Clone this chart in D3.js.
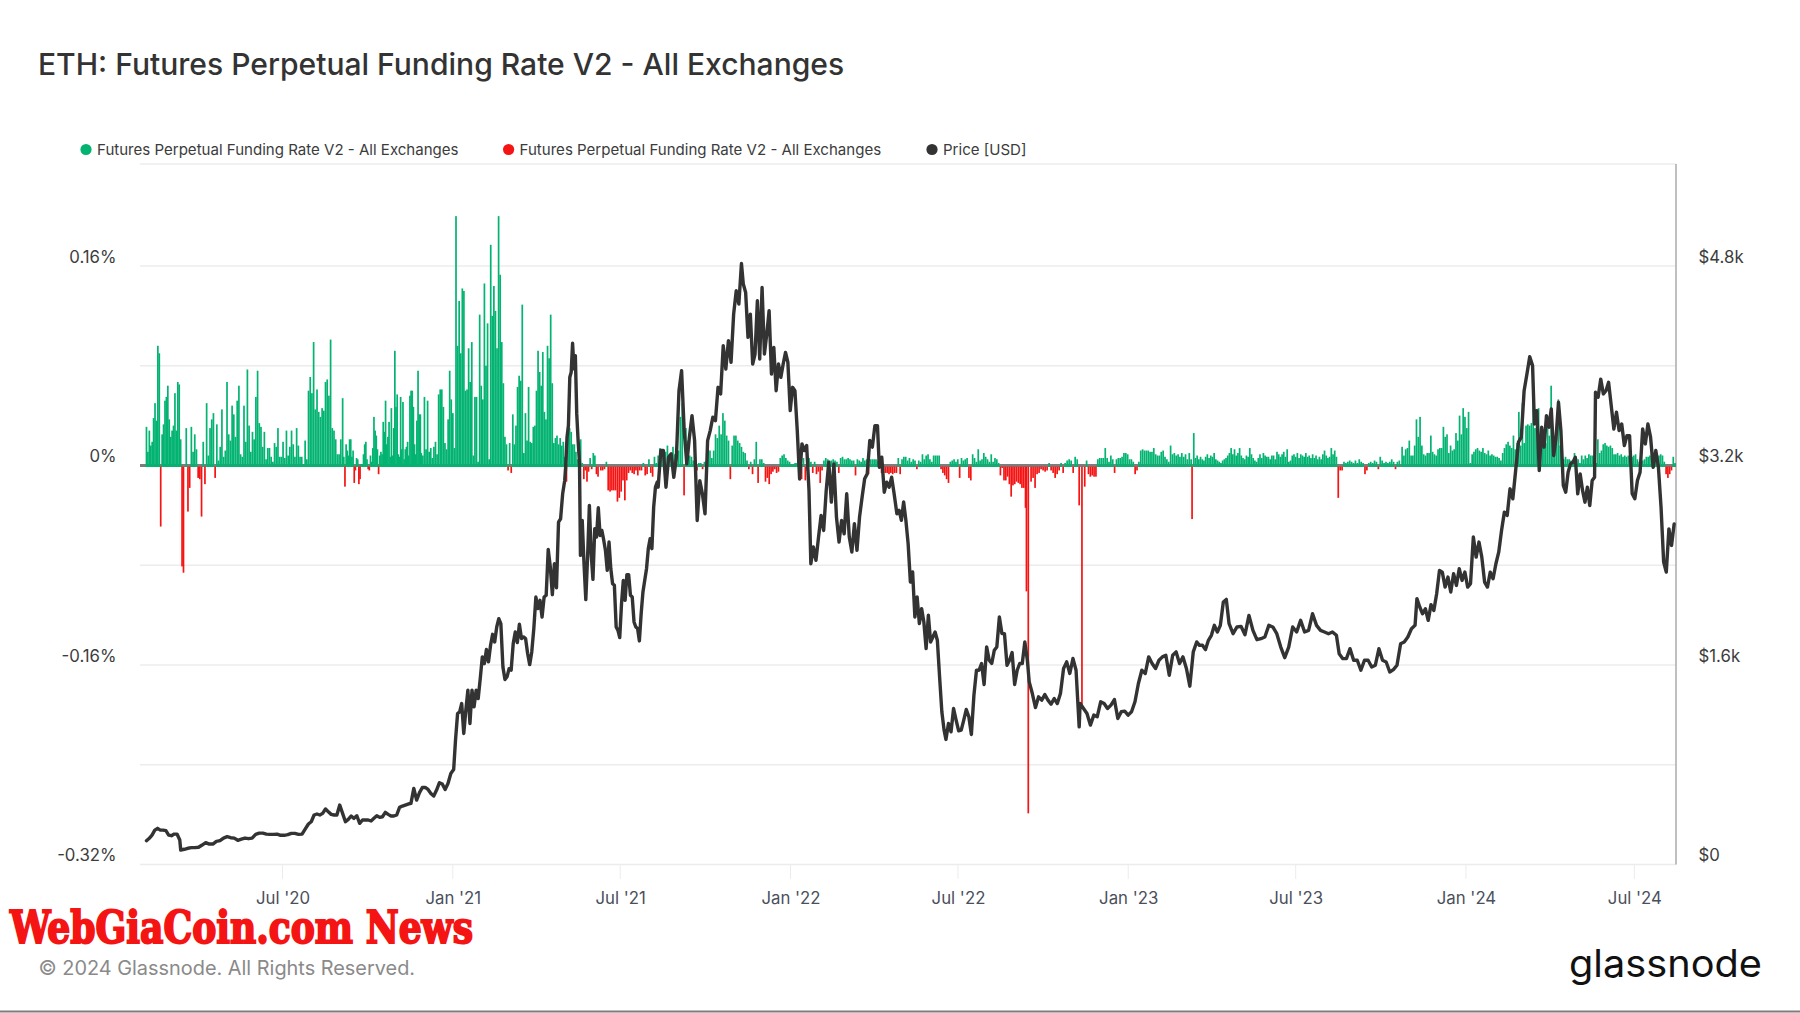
<!DOCTYPE html>
<html><head><meta charset="utf-8">
<script src="https://cdn.jsdelivr.net/npm/d3@7"></script>
<style>
html,body{margin:0;padding:0;background:#fff}
svg{display:block}
.axis path,.axis line{display:none}
</style></head><body>
<svg id="c" width="1800" height="1013"></svg>
<script>
const titleText="ETH: Futures Perpetual Funding Rate V2 - All Exchanges";
const legendLabels=["Futures Perpetual Funding Rate V2 - All Exchanges","Futures Perpetual Funding Rate V2 - All Exchanges","Price [USD]"];
const xTickDates=["2020-07-01","2021-01-01","2021-07-01","2022-01-01","2022-07-01","2023-01-01","2023-07-01","2024-01-01","2024-07-01"];
const yGrid=[0.16,0.08,0,-0.08,-0.16,-0.24,-0.32];
const yLabelled=[0.16,0,-0.16,-0.32];
const priceTicks=[4800,3200,1600,0];

// funding rate, in thousandths of a percent; each run of bars covers fundStarts[i]..fundEnds[i]
const fundStarts=["2020-02-05","2020-03-19","2020-09-04","2020-11-28","2021-06-10","2022-01-09","2022-08-12","2022-09-13","2022-09-18","2022-11-12","2022-11-15","2023-03-11","2023-08-16","2023-10-24"];
const fundEnds=["2020-03-16","2020-09-02","2020-11-27","2021-06-07","2022-01-08","2022-08-10","2022-09-12","2022-09-15","2022-11-09","2022-11-12","2023-03-10","2023-08-14","2023-10-21","2024-08-14"];
const fundA1=[31,11,28,16,19,38,50,36,96,90,-48,25,33,52,55,64,37,23,28,32,58,28,67,65,21,-80,-85];
const fundA2=[30,-36,-17,31,11,25,13,-9,-10,-40,19,-14,50,8,30,37,42,-9,33,4,15,45,7,12,67,25,20,48,41,23,52,64,9,7,48,19,77,32,11,27,21,55,76,34,31,15,27,5,14,14,7,3,18,15,30,7,7,19,6,28,8,15,28,17,7,30,16,7,7,1,20,5,60,71,58,99,45,61,43,39,46,44,67,69,56,101,30,28,21,9,9,21];
const fundB=[54,7,-16,17,12,8,21,21,7,12,-13,-3,6,5,-14,-10,1,1,9,17,19,5,-2,-3,8,3,14,39,28,24,13,-6,8,11,9,35,27,52,17,23,35,7,46,8,30,92,47,57,9,7,55,13,51,5,13,15,19,8,56,60,60,47,17,9,36,76,41,41];
const fundC=[10,8,55,13,52,11,14,6,15,19,9,57,61,61,47,18,13,37,76,53,42,14,200,96,132,90,142,140,60,61,94,67,99,8,55,55,3,121,64,53,146,80,114,5,177,120,144,124,94,200,153,99,66,23,17,-3,18,-5,41,17,32,63,72,68,129,10,42,20,63,19,18,31,32,60,92,75,64,91,43,37,96,86,121,66,18,22,24,17,22,16,19,7,-12,26,30,27,17,17,11,5,7,21,2,-10,-3,-12,-4,6,-2,10,8,-6,-8];
const fundD=[-3,-3,-2,3,-19,-20,-19,-19,-19,-28,-25,-20,-11,-27,-11,-5,-3,-5,-6,-3,-7,-3,-3,2,-7,-6,5,-5,-8,7,2,8,14,13,7,11,16,9,5,15,9,8,12,39,50,-23,30,20,8,7,4,3,-3,2,2,-2,3,3,13,12,6,12,25,22,32,25,42,36,24,20,-10,16,24,24,20,18,15,11,10,4,-2,3,-6,5,19,-13,5,5,2,-12,-9,-14,-6,-4,-2,-5,-4,6,8,9,6,4,3,1,1,2,2];
const fundE=[4,-11,-10,6,-11,-3,6,3,-5,3,-6,-4,-13,-3,4,6,5,4,4,5,4,3,-5,6,7,5,5,6,5,4,4,-7,5,4,3,6,4,5,-6,5,5,5,5,4,2,-5,-3,-5,-5,-6,-5,-6,-5,-5,6,-6,5,7,7,4,6,3,5,4,-2,4,3,9,5,8,9,5,3,8,8,8,8,-2,-5,-7,-10,-13,3,4,5,3,5,-9,6,4,5,6,-9,-11,9,6,3,13,4,5,10,7,5,3,9,3,6];
const fundF=[5,2,-7,-1,-11,-11,-8,-14,-24,-15,-14,-12,-13,-14,-17,-17,-33];
const fundG=[-100,-278];
const fundH=[-12,-9,-17,-6,-5,-2,-3,-4,-3,2,-3,-5,-9,-6,-3,2,-5,2,4,5,4,-5,7,5,-31];
const fundI=[-192];
const fundJ=[-16,4,-6,-8,-7,-8,-8,5,6,6,6,14,6,3,8,5,-5,5,6,6,7,10,10,9,5,5,3,-6,-3,3,12,13,12,12,12,11,11,14,9,8,8,11,12,7,5,3,16,9,10,8,9,7,10,7,9,5,10,5];
const fundK=[-42,26,6,8,5,7,5,4,7,9,6,8,7,10,5,4,3,2,4,5,6,8,10,14,9,13,8,10,14,8,6,5,8,7,14,9,6,4,3,6,9,6,10,8,7,7,5,8,8,5,11,9,7,9,11,7,13,3,4,8,9,7,10,6,9,8,7,10,7,8,6,9,6,8,5,7,5,9,12,8,6,7,14,9,12,7];
const fundL=[-25,-3,-3,3,2,3,4,3,2,4,2,5,3,2,-6,-3,2,3,2,4,3,-2,7,4,2,3,2,3,5,3,-2,3,4];
const fundM=[15,8,13,14,20,8,8,16,37,23,39,16,9,8,10,10,24,11,9,8,13,14,14,31,23,25,10,16,12,13,26,20,40,25,46,39,30,43,2,9,11,13,14,12,11,14,10,9,12,8,9,8,7,7,6,4,10,14,17,19,16,14,24,13,18,43,16,50,18,32,33,32,34,63,30,32,46,21,31,24,18,30,24,64,18,16,22,53,16,9,5,7,5,5,4,3,10,6,5,2,8,5,8,6,9,8,8,5,2,21,10,12,17,18,16,15,16,14,9,9,10,8,9,7,8,7,8,6,7,8,9,5,3,7,4,5,7,7,8,10,7,8,9,8,9,8,3,-6,-9,-6,-3,7,2];
const fundSeries=[fundA1,fundA2,fundB,fundC,fundD,fundE,fundF,fundG,fundH,fundI,fundJ,fundK,fundL,fundM];

// price in USD; each run of values covers priceFrom[i]..priceTo[i]
const priceFrom=["2020-02-05","2020-03-13","2020-07-29","2021-01-04","2021-05-03","2021-05-19","2021-08-11","2021-11-11","2022-01-23","2022-04-07","2022-04-26","2022-06-18","2022-09-16","2022-11-10","2023-03-19","2023-04-20","2023-08-17","2023-11-09","2024-03-15","2024-05-20"];
const priceTo=["2020-03-12","2020-07-26","2021-01-02","2021-05-02","2021-05-18","2021-08-10","2021-11-09","2022-01-21","2022-04-05","2022-04-23","2022-06-16","2022-09-14","2022-11-09","2023-03-16","2023-04-17","2023-08-14","2023-11-07","2024-03-13","2024-05-19","2024-08-13"];
const priceA1=[191,210,236,276,290,276,276,271,236,231,244,244,196];
const priceA2=[116,122,130,135,135,138,156,175,164,164,186,191,212,223,215,212,194,204,212,207,212,242,252,252,244,242,242,244,234,234,239,250,250,242,244,290];
const priceA3=[325,343,397,405,397,410,445,423,402,397,397,477,410,343,362,389,370,391,330,357,357,357,349,370,391,378,383,418,402,389,389,397,458,469,477,485,490,610,517,576,618,618,602,570,549,597,656,645,602,650,730,762];
const priceB=[1000,1211,1224,1291,1051,1238,1398,1131,1398,1264,1398,1331,1491,1665,1611,1724,1625,1758,1846,1785,1905,1972,1932,1585,1483,1505,1571,1558,1772,1865,1780,1927,1812,1825,1812,1692,1603,1705,1892,2145,2052,2119,1985,2145,2159,2527,2386,2164,2412,2220,2746,2773,2973,3080];
const priceC=[3187,3427,3521,3908,3948,4180,3975,4081,3614,3400,3214];
const priceD=[2479,2760,2412,2124,2466,2880,2493,2287,2693,2626,2861,2639,2679,2605,2519,2359,2586,2372,2252,2239,1905,1878,1820,2092,2279,2119,2324,2324,2159,2145,1945,1905,1892,1793,2012,2186,2279,2372,2533,2613,2533,2866,3027,3067];
const priceE1=[3026,3320,3320,3026,3266,3293,3106,3266,3800,3961,3480,3213,3427,3600,3400,2759,3079,2973,2813,3400,3480,3587,3560,3827,3774,4161,3974,4201,4027,4414,4601,4495,4820];
const priceE2=[4655,4588,4228,4414,4014,4094,4521,4054,4628,4094,4254,4441,3934,4147,3800,4014,3907,4014,4107,4027,3640,3827,3800,3480,3093,3373,3320,3360,3000];
const priceE3=[2412,2546,2439,2626,2799,2679,3000,3226,2906,3213,2786,2586,2759,2652,2973,2626,2506,2733,2519,2786,2946,3093,3133,3400,3347,3520,3520];
const priceE4=[3186,3266,2986,3066,3026,3106,2973];
const priceF1=[2813,2840,2760,2907,2760,2573,2266,2346,1985,2146,1932,2052,1945,1732,1999,1785,1825,1865,1799,1505,1225,1078];
const priceF2=[1003,1131,1064,1251,1158,1072,1078,1158,1243,1185,1043,1358,1558,1558,1612,1444,1745,1638,1612,1718,1745,1985,1852,1852,1598,1638,1700,1444,1558,1612,1612,1785,1638];
const priceF3=[1465,1371,1259,1345,1318,1363,1318,1286,1331,1291,1371,1572,1625,1532,1652,1558,1104];
const priceF4=[1291,1251,1211,1118,1198,1185,1305,1291,1251,1278,1323,1171,1225,1230,1198,1225,1305,1452,1558,1532,1665,1612,1572,1638,1665,1678,1518,1678,1705,1612,1665,1572,1430,1705,1785];
const priceG1=[1758,1758,1723,1798,1838,1918,1865,1918,2105,2126];
const priceG2=[1931,1851,1905,1910,1843,1998,1878,1803,1811,1825,1918,1905,1851,1744,1659,1744,1905,1865,1958,1865,1878,2011,1918,1878,1865,1851,1865,1838];
const priceH=[1691,1651,1651,1731,1638,1638,1558,1638,1638,1584,1598,1731,1638,1624,1544,1563,1598,1771,1785,1825,1891,1918];
const priceI=[2132,2065,2011,2051,1958,2084,2038,2172,2359,2345,2225,2305,2185,2332,2238,2372,2278,2345,2225,2252,2626,2465,2586,2465,2265,2225,2345,2292,2412,2505,2679,2826,2799,3013,2933,3160,3387,3427,3800,3934,4073,4001];
const priceJ=[3533,3640,3160,3507,3347,3600,3507,3654,3280,3427,3707,3480,3040,2986,3146,3213,3226,3266,2973,3133,3000,2906,3026,2879,3079,3106];
const priceK=[3787,3747,3893,3774,3800,3867,3680,3493,3627,3480,3533,3360,3440,3440,2973,2933,3079,3146,3493,3373,3533,3427,3186,3320,3186,2866,2425,2345,2692,2559,2732];
const priceSeries=[priceA1,priceA2,priceA3,priceB,priceC,priceD,priceE1,priceE2,priceE3,priceE4,priceF1,priceF2,priceF3,priceF4,priceG1,priceG2,priceH,priceI,priceJ,priceK];

const svg=d3.select("#c");
const uiFont='Inter,"Noto Sans",sans-serif';
const parse=d3.utcParse("%Y-%m-%d");
const plotL=140,plotR=1676,plotT=164,plotB=864.5;
const x=d3.scaleUtc().domain([parse("2020-01-29"),parse("2024-08-15")]).range([plotL,plotR]);
const y=d3.scaleLinear().domain([-0.32,0.16]).range([plotB,266]);
const yP=d3.scaleLinear().domain([0,4800]).range([plotB,266]);
const spread=(s,a,b,i)=>new Date(a+(b-a)*i/Math.max(1,s.length-1));

const bars=[];
fundSeries.forEach((s,k)=>{const a=+parse(fundStarts[k]),b=+parse(fundEnds[k]);s.forEach((v,i)=>bars.push({date:spread(s,a,b,i),value:v/1000}));});
const price=[];
priceSeries.forEach((s,k)=>{const a=+parse(priceFrom[k]),b=+parse(priceTo[k]);s.forEach((v,i)=>price.push({date:spread(s,a,b,i),value:v}));});

const grid=svg.append("g");
grid.selectAll("line.h").data([...yGrid,y.invert(plotT)]).join("line").attr("class","h")
 .attr("x1",plotL).attr("x2",plotR).attr("y1",d=>y(d)).attr("y2",d=>y(d))
 .attr("stroke","#ececec").attr("stroke-width",1.6);
grid.selectAll("line.v").data(xTickDates).join("line").attr("class","v")
 .attr("x1",d=>x(parse(d))).attr("x2",d=>x(parse(d))).attr("y1",plotB).attr("y2",879)
 .attr("stroke","#ececec").attr("stroke-width",1);
grid.append("line").attr("x1",plotR).attr("x2",plotR).attr("y1",plotT).attr("y2",plotB)
 .attr("stroke","#b0b0b0").attr("stroke-width",1.6);
grid.append("line").attr("x1",plotL).attr("x2",plotR).attr("y1",y(0)).attr("y2",y(0))
 .attr("stroke","#7d7d7d").attr("stroke-width",3);

const bw=1.7;
svg.append("g").selectAll("rect").data(bars.filter(d=>d.value>0)).join("rect")
 .attr("x",d=>x(d.date)-bw/2).attr("width",bw)
 .attr("y",d=>y(d.value)).attr("height",d=>y(0)-y(d.value)+1.5).attr("fill","#03b371");
svg.append("g").selectAll("rect").data(bars.filter(d=>d.value<0)).join("rect")
 .attr("x",d=>x(d.date)-bw/2).attr("width",bw)
 .attr("y",y(0)+1.2).attr("height",d=>y(d.value)-y(0)).attr("fill","#f41414");

svg.append("path").datum(price)
 .attr("d",d3.line().x(d=>x(d.date)).y(d=>yP(d.value)))
 .attr("fill","none").attr("stroke","#333333").attr("stroke-width",3.4).attr("stroke-linejoin","round").attr("stroke-linecap","round");

const ax=svg.append("g").attr("class","axis").attr("transform",`translate(0,${plotB})`)
 .call(d3.axisBottom(x).tickValues(xTickDates.map(parse)).tickFormat(d3.utcFormat("%b '%y")).tickSize(0).tickPadding(0));
ax.selectAll("text").attr("y",34).attr("dy","0.35em").attr("fill","#4a4f5c").style("font-size","16.8px").style("font-family",uiFont);

const al=svg.append("g").attr("class","axis").attr("transform",`translate(116.5,-9)`)
 .call(d3.axisLeft(y).tickValues(yLabelled).tickFormat(d=>(d===0?"0":(d<0?"-":"")+Math.abs(d).toFixed(2))+"%").tickSize(0).tickPadding(0));
al.selectAll("text").attr("fill","#3c3c3c").style("font-size","16.8px").style("font-family",uiFont);

const ar=svg.append("g").attr("class","axis").attr("transform",`translate(1698.5,-9)`)
 .call(d3.axisRight(yP).tickValues(priceTicks).tickFormat(d=>d===0?"$0":"$"+(d/1000).toFixed(1)+"k").tickSize(0).tickPadding(0));
ar.selectAll("text").attr("fill","#3c3c3c").style("font-size","16.8px").style("font-family",uiFont);

svg.append("text").text(titleText).attr("x",38).attr("y",75).attr("fill","#333")
 .style("font-size","30.05px").style("font-weight",500).style("font-family",uiFont);

const legX=[86,508.6,932],legC=["#03b371","#f41414","#333333"];
const lg=svg.append("g").selectAll("g").data(legendLabels).join("g").attr("transform",(d,i)=>`translate(${legX[i]},149.5)`);
lg.append("circle").attr("r",5.6).attr("fill",(d,i)=>legC[i]);
lg.append("text").text(d=>d).attr("x",11).attr("y",5.5).attr("fill","#3c3c3c").style("font-size","15.05px").style("font-family",uiFont);

svg.append("text").text("WebGiaCoin.com News").attr("x",10).attr("y",943)
 .attr("textLength",463).attr("lengthAdjust","spacingAndGlyphs")
 .attr("fill","#f51414").attr("stroke","#f51414").attr("stroke-width",1.9)
 .style("font-size","45px").style("font-weight",700).style("font-family","'DejaVu Serif Condensed','DejaVu Serif',serif");
svg.append("text").text("© 2024 Glassnode. All Rights Reserved.").attr("x",38.5).attr("y",975).attr("fill","#8a8a8a")
 .style("font-size","19.9px").style("font-family",uiFont);
svg.append("text").text("glassnode").attr("x",1569).attr("y",977).attr("fill","#111")
 .attr("textLength",193).attr("lengthAdjust","spacingAndGlyphs")
 .style("font-size","38px").style("font-weight",400).style("font-family","Inter,sans-serif");
svg.append("line").attr("x1",0).attr("x2",1800).attr("y1",1011.5).attr("y2",1011.5).attr("stroke","#7d7d7d").attr("stroke-width",2);
</script>
</body></html>
